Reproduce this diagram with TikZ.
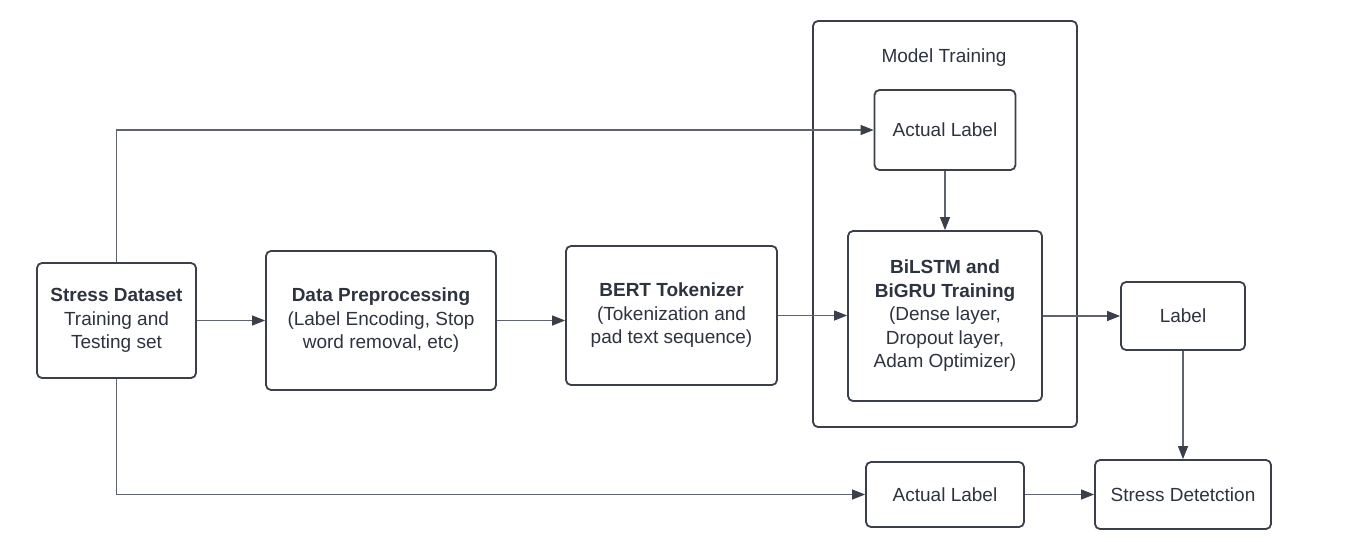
\documentclass[tikz,border=0pt]{standalone}
\usepackage{fontspec}
\setmainfont{Liberation Sans}
\usetikzlibrary{arrows.meta}

\definecolor{edgegray}{HTML}{3A3F4A}
\definecolor{linegray}{HTML}{5F646E}
\definecolor{textgray}{HTML}{2E3340}

\begin{document}
\begin{tikzpicture}[x=1pt, y=-1pt,
  every node/.style={font=\fontsize{19}{23.5}\selectfont, text=textgray, align=center, inner sep=0pt},
  box/.style={draw=edgegray, line width=1.8pt, rounded corners=5pt},
  flow/.style={draw=linegray, line width=1.1pt, -{Triangle[length=13pt,width=10pt,color=edgegray]}},
  wire/.style={draw=linegray, line width=1.1pt}]

% page
\useasboundingbox[fill=white] (0,0) rectangle (1362,541);

% model training frame
\node[box, minimum width=264, minimum height=406] (frame) at (945,224) {};
\node (frametitle) at (944,58) {Model Training};

% the boxes
\node[box, minimum width=159, minimum height=115] (dataset) at (116.5,320.5)
  {\textbf{Stress Dataset}\\Training and\\Testing set};
\node[box, minimum width=230, minimum height=139] (prep) at (381,320.5)
  {\textbf{Data Preprocessing}\\(Label Encoding, Stop\\word removal, etc)};
\node[box, minimum width=211, minimum height=139] (bert) at (671.5,315.5)
  {\textbf{BERT Tokenizer}\\(Tokenization and\\pad text sequence)};
\node[box, minimum width=141, minimum height=80] (truetop) at (945,130) {Actual Label};
\node[box, minimum width=194, minimum height=170] (bilstm) at (945,316)
  {\textbf{BiLSTM and}\\\textbf{BiGRU Training}\\(Dense layer,\\Dropout layer,\\Adam Optimizer)};
\node[box, minimum width=124, minimum height=68] (label) at (1183,316) {Label};
\node[box, minimum width=158, minimum height=65] (truebot) at (945,494.5) {Actual Label};
\node[box, minimum width=176, minimum height=69] (detect) at (1183,494.5) {Stress Detetction};

% main flow
\draw[flow] (dataset.east) -- (prep.west);
\draw[flow] (prep.east) -- (prep.east -| bert.west);
\draw[flow] (bert.east) -- (bert.east -| bilstm.west);
\draw[flow] (truetop.south) -- (bilstm.north);
\draw[flow] (bilstm.east) -- (label.west);
\draw[flow] (label.south) -- (detect.north);
\draw[flow] (truebot.east) -- (detect.west);

% labels taken straight from the dataset
\draw[flow] (dataset.north) |- (truetop.west);
\draw[flow] (dataset.south) |- (truebot.west);

\end{tikzpicture}
\end{document}
